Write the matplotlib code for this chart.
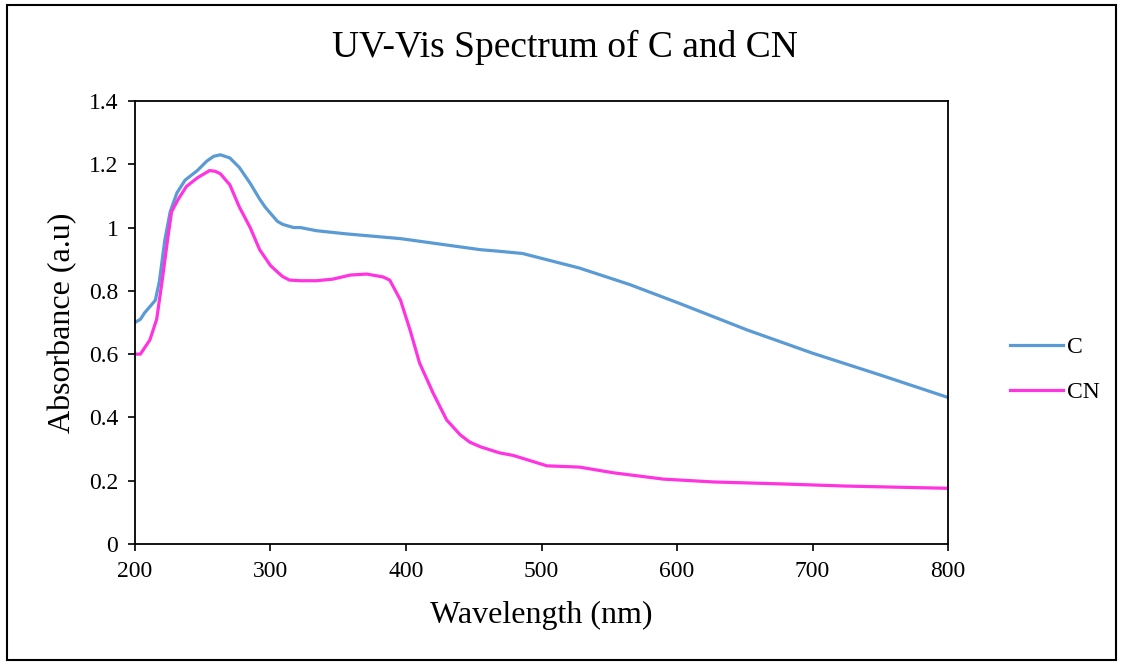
import matplotlib.pyplot as plt
from matplotlib.patches import Rectangle

plt.rcParams['font.family'] = ['Liberation Serif', 'DejaVu Serif']

# values
wl_c = [200, 204, 207, 211, 215, 218, 222, 226, 231, 237, 246, 253, 258, 263, 270,
        277, 285, 292, 296, 300, 305, 309, 317, 322, 334, 356, 396, 455, 469, 486, 528, 565,
        602, 652, 700, 750, 800]
abs_c = [0.70, 0.71, 0.73, 0.75, 0.77, 0.83, 0.96, 1.05, 1.11, 1.15, 1.18, 1.21, 1.225, 1.23, 1.22,
         1.19, 1.14, 1.09, 1.065, 1.045, 1.02, 1.01, 1.00, 1.00, 0.99, 0.98, 0.965, 0.93, 0.925, 0.918, 0.872, 0.82,
         0.76, 0.676, 0.603, 0.534, 0.463]

wl_cn = [200, 204, 211, 216, 220, 224, 227, 232, 238, 246, 255, 259, 263, 270, 277, 285,
         292, 300, 305, 309, 314, 322, 334, 346, 359, 371, 383, 388, 396, 403, 410, 420,
         430, 440, 447, 455, 469, 479, 504, 528, 553, 590, 627, 676, 725, 800]
abs_cn = [0.60, 0.60, 0.645, 0.71, 0.83, 0.96, 1.05, 1.09, 1.13, 1.157, 1.18, 1.178, 1.17, 1.135, 1.065, 1.00,
          0.93, 0.88, 0.86, 0.845, 0.834, 0.832, 0.832, 0.837, 0.85, 0.853, 0.844, 0.834, 0.77, 0.676, 0.572, 0.477,
          0.392, 0.345, 0.322, 0.307, 0.288, 0.28, 0.247, 0.243, 0.225, 0.205, 0.196, 0.19, 0.183, 0.176]

x_ticks = [200, 300, 400, 500, 600, 700, 800]
y_ticks = [0, 0.2, 0.4, 0.6, 0.8, 1, 1.2, 1.4]
y_tick_labels = ['0', '0.2', '0.4', '0.6', '0.8', '1', '1.2', '1.4']

fig = plt.figure(figsize=(11.23, 6.63), dpi=100)
ax = fig.add_axes([0.1202, 0.1795, 0.7240, 0.6682])

ax.plot(wl_c, abs_c, color='#5B9BD5', lw=2.3, label='C')
ax.plot(wl_cn, abs_cn, color='#FF33E0', lw=2.3, label='CN')

ax.set_xlim(200, 800)
ax.set_ylim(0, 1.4)
ax.set_xticks(x_ticks)
ax.set_yticks(y_ticks)
ax.set_yticklabels(y_tick_labels)
ax.tick_params(direction='out', length=5, width=1.2, labelsize=17, pad=7, colors='black')
for s in ax.spines.values():
    s.set_linewidth(1.3)
    s.set_color('black')

# title is centred on the whole chart, not on the plot area
fig.text(0.503, 0.928, 'UV-Vis Spectrum of C and CN', fontsize=27, ha='center', va='center')
ax.set_xlabel('Wavelength (nm)', fontsize=23, labelpad=14)
ax.set_ylabel('Absorbance (a.u)', fontsize=23, labelpad=8)

ax.legend(loc='center left', bbox_to_anchor=(1.05, 0.393), frameon=False,
          fontsize=17, handlelength=2.25, handletextpad=0.15, labelspacing=1.0)

# outer border around the whole chart
fig.patches.append(Rectangle((0.006, 0.005), 0.988, 0.988, transform=fig.transFigure,
                             fill=False, edgecolor='black', linewidth=1.5))

fig.savefig('out.png', dpi=100)
